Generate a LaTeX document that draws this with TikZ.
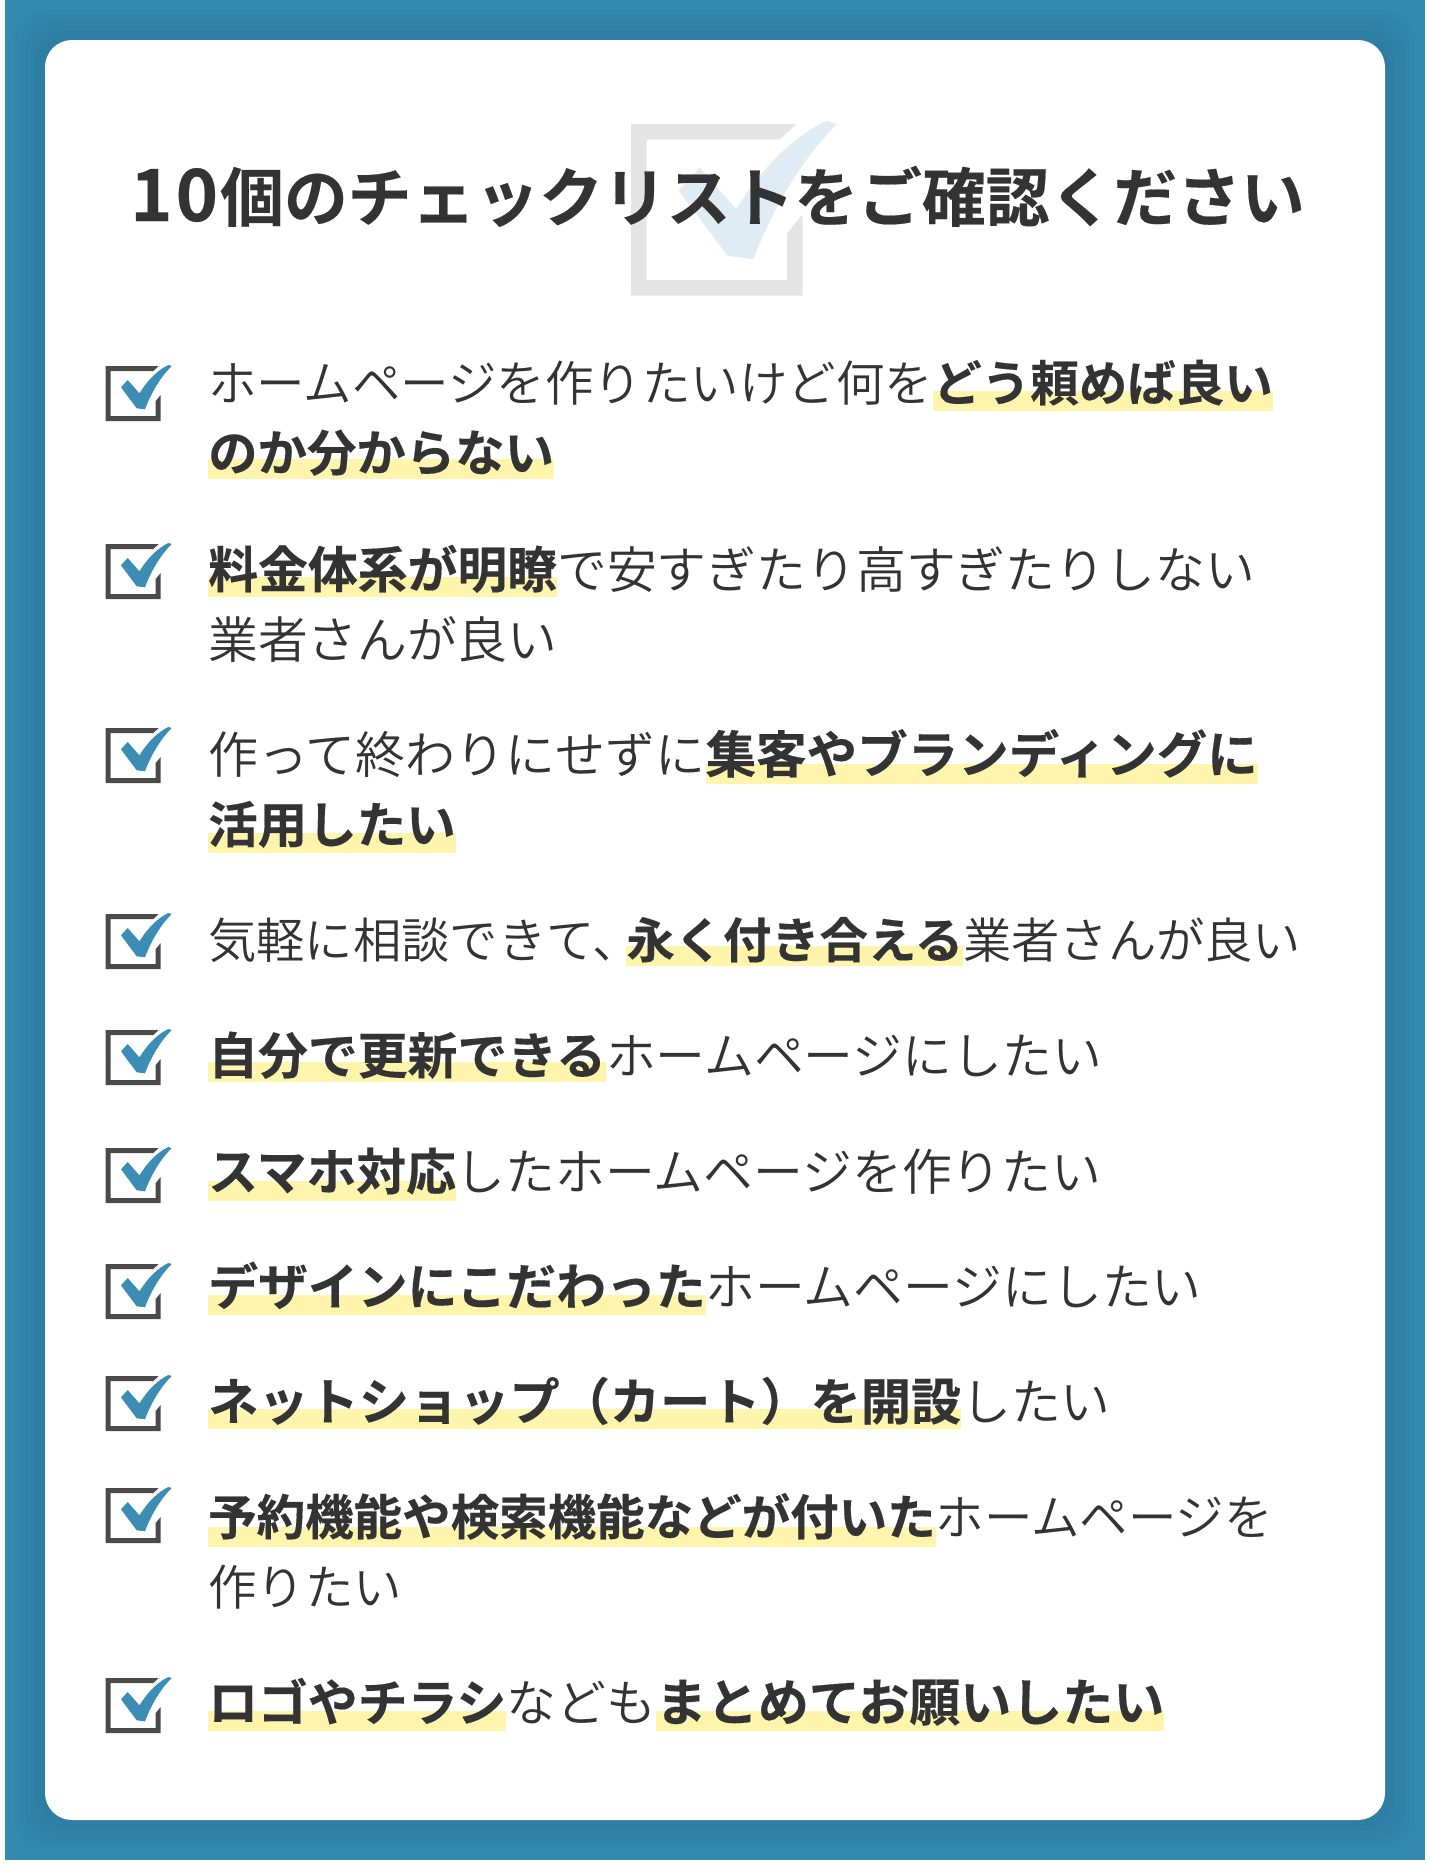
\documentclass[tikz,border=0pt]{standalone}
\usepackage{fontspec}
\setmainfont{Noto Sans CJK JP}
\newfontfamily\lightf{Noto Sans CJK JP DemiLight}
\newfontfamily\boldf[FakeBold=0.3]{Noto Sans CJK JP Bold}
\definecolor{frameblue}{HTML}{3389AE}
\definecolor{inkc}{HTML}{333333}
\definecolor{hlc}{HTML}{FFF4AB}
\definecolor{boxc}{HTML}{4A4A4A}
\definecolor{tickc}{HTML}{3B8DB5}
\definecolor{wboxc}{HTML}{E4E4E4}
\definecolor{wtickc}{HTML}{DFECF3}
\newcommand{\hlt}[2][9]{\setbox0=\hbox{\boldf #2}\rlap{\color{hlc}\raisebox{-#1pt}{\rule{\wd0}{20pt}}}\box0\relax}
\newcommand{\checkicon}[5]{%
 \begin{scope}[shift={(#1,#2)},scale=#3]
  \fill[#4] (0,0)--(53,0)--(47.6,5)--(5,5)--(5,50)--(50,50)--(50,35)--(55,29)--(55,55)--(0,55)--cycle;
  \fill[#5] (15.3,21.3)--(22,14)--(33.7,27.3) .. controls (42,14) and (52,4) .. (62.7,-1)--(66,0)
     .. controls (54,12) and (45,28) .. (39.3,43.3)--(31,42.3)--cycle;
 \end{scope}}
\tikzset{linetext/.style={anchor=base west,inner sep=0pt,text=inkc,font=\fontsize{#1pt}{#1pt}\lightf}}
\begin{document}
\begin{tikzpicture}[x=1pt,y=-1pt]
\useasboundingbox (0,0) rectangle (1430,1875);
\fill[white] (0,0) rectangle (1430,1875);
\fill[frameblue] (5,0) rectangle (1425,1860);
\begin{scope}
 \clip (5,0) rectangle (1425,1860);
 \foreach \k in {1,...,6}{\fill[black,opacity=0.008,rounded corners=30pt] (45-\k*5,40-\k*5) rectangle (1385+\k*5,1820+\k*5);}
\end{scope}
\fill[white,rounded corners=27pt] (45,40) rectangle (1385,1820);
\checkicon{631}{124}{3.12}{wboxc}{wtickc}
\node[anchor=base west,inner sep=0pt,text=inkc,font=\fontsize{63.8pt}{64pt}\boldf] (title) at (130,221) {{\fontsize{72pt}{72pt}\selectfont 1\kern3pt0\kern2pt}個のチェックリストをご確認ください};
\foreach \iy in {366,544,728,914,1030,1148,1264,1376,1488,1678}{\checkicon{105.7}{\iy}{1}{boxc}{tickc}}
\node[linetext=48.5] (l1) at (208,401) {ホームページを作りたいけど何を\hlt[10]{どう頼めば良い}};
\node[linetext=49.4] (l2) at (208,471) {\hlt[8]{のか分からない}};
\node[linetext=49.85] (l3) at (208,588) {\hlt[9]{料金体系が明瞭}で安すぎたり高すぎたりしない};
\node[linetext=49.8] (l4) at (208,658) {業者さんが良い};
\node[linetext=50] (l5) at (208,773) {作って終わりにせずに{\fontsize{50.5pt}{50pt}\selectfont\hlt[11]{集客やブランディングに}}};
\node[linetext=49.5] (l6) at (208,843) {\hlt[10]{活用したい}};
\node[linetext=48.3] (l7) at (208,958) {気軽に相談できて、\kern-14pt\hlt[8]{永く付き合える}業者さんが良い};
\node[linetext=49.85] (l8) at (208,1074) {\hlt[8]{自分で更新できる}ホームページにしたい};
\node[linetext=49.85] (l9) at (208,1190) {\hlt[11]{スマホ対応}したホームページを作りたい};
\node[linetext=49.85] (l10) at (208,1305) {\hlt[10]{デザインにこだわった}ホームページにしたい};
\node[linetext=49.85] (l11) at (208,1420) {{\fontsize{50.2pt}{50pt}\selectfont\hlt[9]{ネットショップ（カート）を開設}}したい};
\node[linetext=48.5] (l12) at (208,1535) {\hlt[12]{予約機能や検索機能などが付いた}ホームページを};
\node[linetext=48.5] (l13) at (208,1605) {作りたい};
\node[linetext=49.85] (l14) at (208,1721) {\hlt[10]{ロゴやチラシ}なども{\fontsize{51pt}{50pt}\selectfont\hlt[10]{まとめてお願いしたい}}};
\end{tikzpicture}
\end{document}
